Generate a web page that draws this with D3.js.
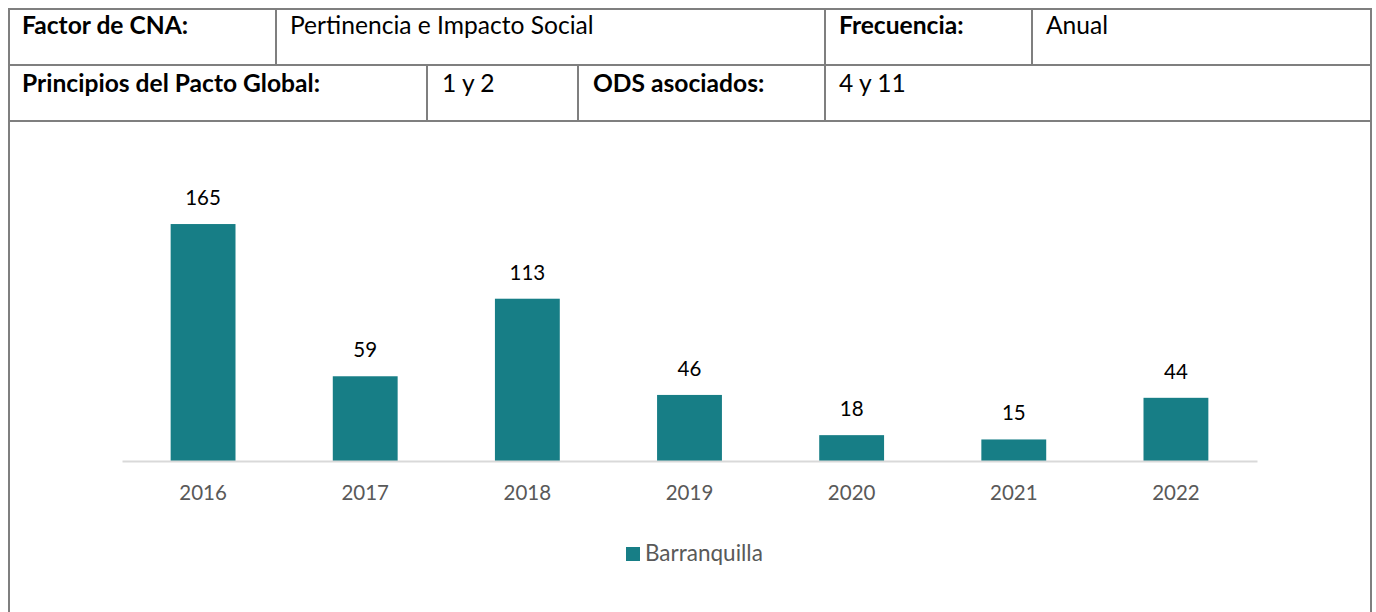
<!DOCTYPE html>
<html><head><meta charset="utf-8">
<script src="https://cdn.jsdelivr.net/npm/d3@7"></script>
<style>html,body{margin:0;padding:0;background:#fff;}svg{display:block;}</style>
</head><body>
<svg id="c" width="1376" height="612"></svg>
<script>
const years = ["2016","2017","2018","2019","2020","2021","2022"];
const values = [165, 59, 113, 46, 18, 15, 44];
const seriesName = "Barranquilla";
const headerRow1 = [
  {text:"Factor de CNA:", bold:true, x:22},
  {text:"Pertinencia e Impacto Social", bold:false, x:290},
  {text:"Frecuencia:", bold:true, x:839},
  {text:"Anual", bold:false, x:1046}
];
const headerRow2 = [
  {text:"Principios del Pacto Global:", bold:true, x:22},
  {text:"1 y 2", bold:false, x:442},
  {text:"ODS asociados:", bold:true, x:593},
  {text:"4 y 11", bold:false, x:839}
];

const svg = d3.select("#c");
const font = "Lato, 'Open Sans', sans-serif";
const border = "#7f7f7f";

// table grid
const g = svg.append("g").attr("stroke", border).attr("stroke-width", 2).attr("fill","none");
const L = 9, R = 1371, T = 9, r1 = 65, r2 = 121;
g.append("line").attr("x1",L).attr("x2",R).attr("y1",T).attr("y2",T);
g.append("line").attr("x1",L).attr("x2",R).attr("y1",r1).attr("y2",r1);
g.append("line").attr("x1",L).attr("x2",R).attr("y1",r2).attr("y2",r2);
g.append("line").attr("x1",L).attr("x2",L).attr("y1",T-1).attr("y2",612);
g.append("line").attr("x1",R).attr("x2",R).attr("y1",T-1).attr("y2",612);
[276, 825, 1032].forEach(x => g.append("line").attr("x1",x).attr("x2",x).attr("y1",T).attr("y2",r1));
[427, 578, 825].forEach(x => g.append("line").attr("x1",x).attr("x2",x).attr("y1",r1).attr("y2",r2));

function headerText(rows, y){
  svg.append("g").selectAll("text").data(rows).join("text")
    .attr("x", d=>d.x).attr("y", y)
    .attr("font-family", font).attr("font-size", 24.6)
    .attr("font-weight", d=>d.bold?700:400)
    .attr("fill", "#000")
    .text(d=>d.text);
}
headerText(headerRow1, 34);
headerText(headerRow2, 92);

// chart
const x = d3.scaleBand().domain(years).range([122, 1257]).padding(0);
const y = d3.scaleLinear().domain([0, 180]).range([461, 202.5]);
const barW = x.bandwidth() * 0.4;
const color = "#177e86";

svg.append("g").selectAll("rect").data(values).join("rect")
  .attr("x", (d,i)=>x(years[i]) + (x.bandwidth()-barW)/2)
  .attr("y", d=>y(d))
  .attr("width", barW)
  .attr("height", d=>y(0)-y(d))
  .attr("fill", color);

svg.append("g").selectAll("text").data(values).join("text")
  .attr("x", (d,i)=>x(years[i]) + x.bandwidth()/2)
  .attr("y", d=>y(d) - 19)
  .attr("text-anchor","middle")
  .attr("font-family", font).attr("font-size", 20.5)
  .attr("fill","#000")
  .text(d=>d);

const axis = svg.append("g").attr("transform", `translate(0,${y(0)})`)
  .call(d3.axisBottom(x).tickSize(0).tickPadding(24));
axis.select(".domain").attr("stroke","#d9d9d9").attr("stroke-width",2);
axis.selectAll("text").attr("font-family", font).attr("font-size", 20.5).attr("fill","#595959");

// legend
const lg = svg.append("g");
lg.append("rect").attr("x",626).attr("y",547).attr("width",14).attr("height",14).attr("fill",color);
lg.append("text").attr("x",645).attr("y",561).attr("font-family",font).attr("font-size",22.5)
  .attr("fill","#595959").text(seriesName);
</script>
</body></html>
